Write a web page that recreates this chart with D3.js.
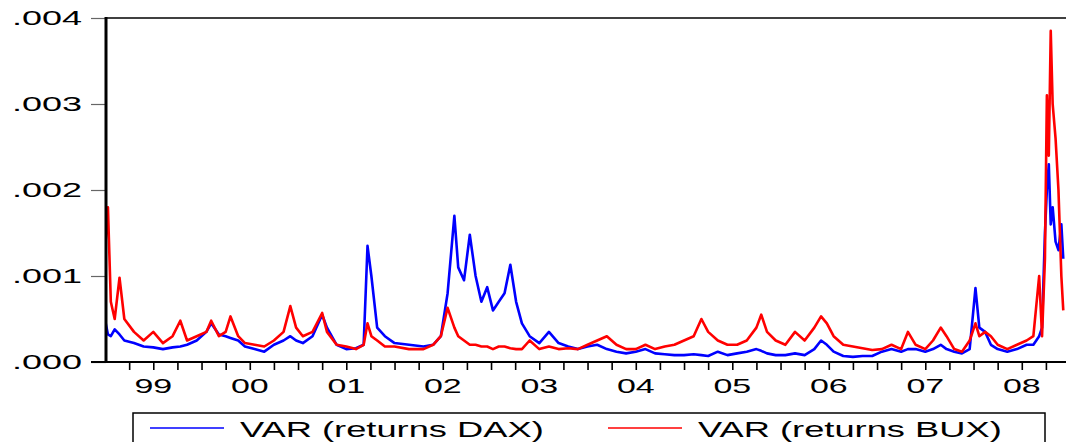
<!DOCTYPE html>
<html>
<head>
<meta charset="utf-8">
<script src="https://cdn.jsdelivr.net/npm/d3@7"></script>
<style>
  body { margin: 0; background: #fff; }
  text { font-family: "Liberation Sans", Arial, sans-serif; }
</style>
</head>
<body>
<div id="chart"></div>
<script>
// decimal years
const dates = [
  1999.00, 1999.03, 1999.06, 1999.10, 1999.15, 1999.20, 1999.30, 1999.40, 1999.50, 1999.60,
  1999.70, 1999.78, 1999.85, 1999.95, 2000.05, 2000.10, 2000.18, 2000.25, 2000.30, 2000.38,
  2000.45, 2000.55, 2000.65, 2000.75, 2000.85, 2000.92, 2000.98, 2001.05, 2001.15, 2001.25,
  2001.30, 2001.40, 2001.50, 2001.60, 2001.68, 2001.72, 2001.76, 2001.82, 2001.90, 2002.00,
  2002.15, 2002.30, 2002.40, 2002.48, 2002.55, 2002.62, 2002.66, 2002.72, 2002.78, 2002.84,
  2002.90, 2002.96, 2003.02, 2003.08, 2003.14, 2003.20, 2003.26, 2003.32, 2003.40, 2003.50,
  2003.60, 2003.70, 2003.80, 2003.90, 2004.00, 2004.10, 2004.20, 2004.30, 2004.40, 2004.50,
  2004.60, 2004.70, 2004.80, 2004.90, 2005.00, 2005.10, 2005.18, 2005.25, 2005.35, 2005.45,
  2005.55, 2005.65, 2005.75, 2005.80, 2005.86, 2005.95, 2006.05, 2006.15, 2006.25, 2006.35,
  2006.42, 2006.48, 2006.55, 2006.65, 2006.75, 2006.85, 2006.95, 2007.05, 2007.15, 2007.25,
  2007.32, 2007.40, 2007.50, 2007.58, 2007.66, 2007.72, 2007.80, 2007.88, 2007.96, 2008.02,
  2008.06, 2008.12, 2008.18, 2008.25, 2008.35, 2008.45, 2008.55, 2008.62, 2008.68, 2008.71,
  2008.74, 2008.76, 2008.78, 2008.80, 2008.82, 2008.85, 2008.88, 2008.91, 2008.93
]

// values in units of 1e-4
const varDax = [
  4.9, 3.2, 3.0, 3.8, 3.2, 2.5, 2.2, 1.8, 1.7, 1.5,
  1.7, 1.8, 2.0, 2.5, 3.5, 4.5, 3.2, 3.0, 2.8, 2.5,
  1.8, 1.5, 1.2, 2.0, 2.5, 3.0, 2.5, 2.2, 3.0, 5.5,
  4.0, 2.0, 1.5, 1.6, 2.0, 13.5, 10, 4.0, 3.0, 2.2,
  2.0, 1.8, 2.0, 3.0, 8, 17, 11, 9.5, 14.8, 10,
  7, 8.7, 6, 7, 8, 11.3, 7, 4.5, 3.0, 2.2,
  3.5, 2.2, 1.8, 1.5, 1.8, 2.0, 1.5, 1.2, 1.0, 1.2,
  1.5, 1.0, 0.9, 0.8, 0.8, 0.9, 0.8, 0.7, 1.2, 0.8,
  1.0, 1.2, 1.5, 1.3, 1.0, 0.8, 0.8, 1.0, 0.8, 1.5,
  2.5, 2.0, 1.2, 0.7, 0.6, 0.7, 0.7, 1.2, 1.5, 1.2,
  1.5, 1.5, 1.2, 1.5, 2.0, 1.5, 1.2, 1.0, 1.5, 8.6,
  4.0, 3.5, 2.0, 1.5, 1.2, 1.5, 2.0, 2.0, 3.0, 4.0,
  15, 20, 23, 16, 18, 14, 13, 16, 12
]

const varBux = [
  13, 18, 7, 5, 9.8, 5, 3.5, 2.5, 3.5, 2.2,
  3.0, 4.8, 2.5, 3.0, 3.5, 4.8, 3.0, 3.5, 5.3, 3.0,
  2.2, 2.0, 1.8, 2.5, 3.5, 6.5, 4.0, 3.0, 3.5, 5.7,
  3.5, 2.0, 1.8, 1.5, 2.0, 4.5, 3.0, 2.5, 1.8, 1.8,
  1.5, 1.5, 2.0, 3.0, 6.3, 4.0, 3.0, 2.5, 2.0, 2.0,
  1.8, 1.8, 1.5, 1.8, 1.8, 1.6, 1.5, 1.5, 2.5, 1.5,
  1.8, 1.5, 1.6, 1.5, 2.0, 2.5, 3.0, 2.0, 1.5, 1.5,
  2.0, 1.5, 1.8, 2.0, 2.5, 3.0, 5.0, 3.5, 2.5, 2.0,
  2.0, 2.5, 4.0, 5.5, 3.5, 2.5, 2.0, 3.5, 2.5, 4.0,
  5.3, 4.5, 3.0, 2.0, 1.8, 1.6, 1.4, 1.5, 2.0, 1.5,
  3.5, 2.0, 1.5, 2.5, 4.0, 3.0, 1.5, 1.2, 2.5, 4.5,
  3.0, 3.5, 3.0, 2.0, 1.5, 2.0, 2.5, 3.0, 10, 3.0,
  12, 31, 24, 38.5, 30, 26, 20, 10, 6
]

const yTicks = [0, 0.001, 0.002, 0.003, 0.004]
const yearLabels = ['99', '00', '01', '02', '03', '04', '05', '06', '07', '08']
const seriesNames = ['VAR (returns DAX)', 'VAR (returns BUX)']
const seriesColors = ['#0000ff', '#ff0000']

const width = 1066,
  height = 442,
  marginLeft = 106,
  marginTop = 18,
  axisY = 362,
  stretch = 1.8 // the original picture is stretched sideways

const svg = d3.select('#chart')
  .append('svg')
  .attr('width', width)
  .attr('height', height)

const x = d3.scaleLinear()
  .domain([1999.01, 1999.01 + (width - marginLeft) / 96.5])
  .range([marginLeft, width])

const y = d3.scaleLinear()
  .domain([0, 0.004])
  .range([axisY, marginTop])

svg.append('clipPath').attr('id', 'clip')
  .append('rect')
  .attr('x', marginLeft).attr('y', marginTop)
  .attr('width', width - marginLeft).attr('height', axisY - marginTop)

// frame
svg.append('line')
  .attr('x1', marginLeft).attr('x2', width).attr('y1', marginTop).attr('y2', marginTop)
  .attr('stroke', '#000').attr('stroke-width', 1.5)

const lineFor = vals => d3.line()
  .x((d, i) => x(dates[i]))
  .y(d => y(d / 10000))(vals)

const g = svg.append('g').attr('clip-path', 'url(#clip)')
;[varDax, varBux].forEach((vals, k) => {
  g.append('path')
    .attr('d', lineFor(vals))
    .attr('fill', 'none')
    .attr('stroke', seriesColors[k])
    .attr('stroke-width', 2.6)
    .attr('stroke-linejoin', 'round')
})

// y axis
const fmt = d => d3.format('.3f')(d).replace(/^0/, '')
const yAxis = svg.append('g')
  .attr('transform', `translate(${marginLeft},0)`)
  .call(d3.axisLeft(y).tickValues(yTicks).tickSize(15).tickFormat(''))
yAxis.select('.domain').remove()
yAxis.selectAll('line').attr('stroke', '#666').attr('stroke-width', 1.2)
svg.append('g').selectAll('text')
  .data(yTicks)
  .join('text')
  .attr('transform', d => `translate(82,${y(d) + 7}) scale(${stretch},1)`)
  .attr('text-anchor', 'end')
  .attr('font-size', 20)
  .text(fmt)
svg.append('line')
  .attr('x1', marginLeft).attr('x2', marginLeft).attr('y1', marginTop - 1).attr('y2', axisY)
  .attr('stroke', '#000').attr('stroke-width', 3)

// x axis
const quarters = d3.range(1999.25, 2009, 0.25)
const xAxis = svg.append('g')
  .attr('transform', `translate(0,${axisY})`)
  .call(d3.axisBottom(x).tickValues(quarters).tickSize(8).tickFormat(''))
xAxis.select('.domain').remove()
xAxis.selectAll('line').attr('stroke', '#000').attr('stroke-width', 1.6)
svg.append('line')
  .attr('x1', marginLeft - 15).attr('x2', width).attr('y1', axisY).attr('y2', axisY)
  .attr('stroke', '#000').attr('stroke-width', 2)

svg.append('g').selectAll('text')
  .data(yearLabels)
  .join('text')
  .attr('transform', (d, i) => `translate(${x(1999.5 + i)},${axisY + 31}) scale(${stretch - 0.1},1)`)
  .attr('text-anchor', 'middle')
  .attr('font-size', 20)
  .text(d => d)

// legend
svg.append('rect')
  .attr('x', 133).attr('y', 413)
  .attr('width', 912).attr('height', 40)
  .attr('fill', '#fff').attr('stroke', '#000').attr('stroke-width', 1.5)

const legendX = [150, 608]
seriesNames.forEach((name, k) => {
  svg.append('line')
    .attr('x1', legendX[k]).attr('x2', legendX[k] + 74)
    .attr('y1', 428).attr('y2', 428)
    .attr('stroke', seriesColors[k]).attr('stroke-width', 1.5)
  svg.append('text')
    .attr('transform', `translate(${legendX[k] + 90},437) scale(1.65,1)`)
    .attr('font-size', 22)
    .text(name)
})
</script>
</body>
</html>
